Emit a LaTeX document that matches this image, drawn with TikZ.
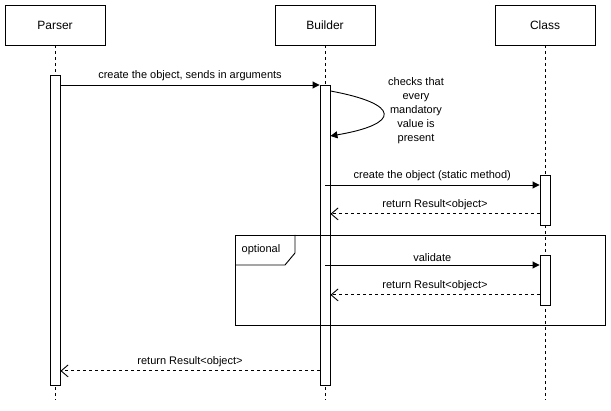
\documentclass[tikz,border=0pt]{standalone}
\usepackage{fontspec}
\setmainfont{Liberation Sans}
\usetikzlibrary{arrows.meta,positioning}

\tikzset{
    actor/.style={draw,minimum width=100pt,minimum height=40pt,inner sep=0pt,font=\fontsize{12}{14}\selectfont},
    bar/.style={draw,fill=white,minimum width=10pt,inner sep=0pt,anchor=north},
    life/.style={dash pattern=on 3pt off 3pt},
    call/.style={-{Triangle[length=7pt,width=7pt]}},
    reply/.style={dash pattern=on 3pt off 3pt,-{Straight Barb[length=7pt,width=12pt]}},
    lbl/.style={font=\fontsize{11}{14}\selectfont}
}

\begin{document}
\begin{tikzpicture}[x=1pt,y=-1pt,line width=0.9pt]
            \useasboundingbox (0,0) rectangle (611,411);

            \node [actor] (parser) at (55,25) {Parser};
            \node [actor] (builder) at (325,25) {Builder};
            \node [actor] (class) at (545,25) {Class};

            \coordinate (parserEnd) at (55,400);
            \coordinate (builderEnd) at (325,400);
            \coordinate (classEnd) at (545,400);
            \draw [life] (parser) -- (parserEnd);
            \draw [life] (builder) -- (builderEnd);
            \draw [life] (class) -- (classEnd);

            \node [bar,minimum height=310pt] (parserBar) at (55,75) {};
            \node [bar,minimum height=300pt] (builderBar) at (325,85) {};
            \node [bar,minimum height=50pt] (classBarA) at (545,175) {};
            \node [bar,minimum height=50pt] (classBarB) at (545,255) {};

            \draw [call] (parserBar.east |- builderBar.north) -- node [lbl,above] {create the object, sends in arguments} (builderBar.north west);

            \coordinate (selfOut) at ([yshift=-6pt]builderBar.north east);
            \coordinate (selfIn) at ([yshift=-51pt]builderBar.north east);
            \draw [call] (selfOut) .. controls (401,104) and (401,124) .. (selfIn);
            \node [lbl,align=center] (selfLabel) at (416,111) {checks that\\every\\mandatory\\value is\\present};

            \coordinate (callA) at ([yshift=-10pt]classBarA.north west);
            \draw [call] (builder |- callA) -- node [lbl,above] {create the object (static method)} (callA);
            \coordinate (retA) at ([yshift=12pt]classBarA.south west);
            \draw [reply] (retA) -- node [lbl,above] {return Result<object>} (builderBar.east |- retA);

            \coordinate (callB) at ([yshift=-10pt]classBarB.north west);
            \draw [call] (builder |- callB) -- node [lbl,above] {validate} (callB);
            \coordinate (retB) at ([yshift=11pt]classBarB.south west);
            \draw [reply] (retB) -- node [lbl,above] {return Result<object>} (builderBar.east |- retB);

            \node [draw,minimum width=370pt,minimum height=90pt,inner sep=0pt,anchor=north west] (frame) at (235,235) {};
            \draw (frame.north west) ++(60,0) -- ++(0,18) -- ++(-10,12) -- ++(-50,0);
            \node [lbl] (frameLabel) at (261,250) {optional};

            \coordinate (retC) at ([yshift=15pt]builderBar.south west);
            \draw [reply] (retC) -- node [lbl,above] {return Result<object>} (parserBar.east |- retC);
        \end{tikzpicture}
\end{document}
